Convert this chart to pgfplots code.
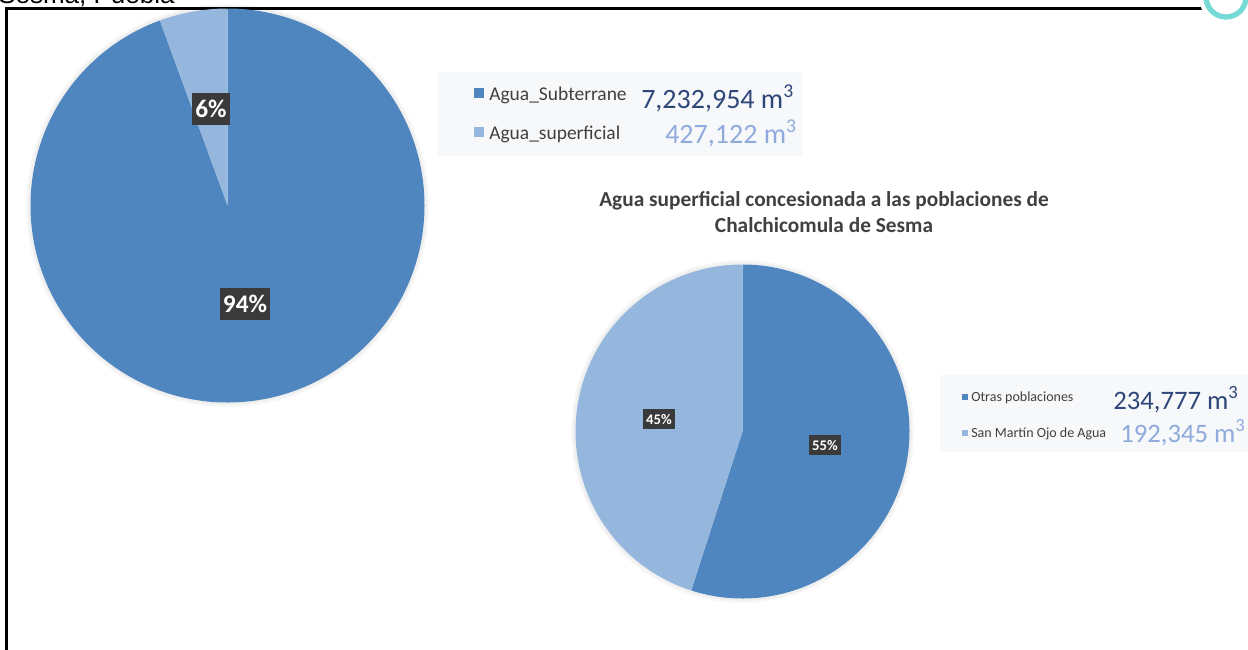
\documentclass[border=0pt]{standalone}
\usepackage{pgfplots}
\pgfplotsset{compat=1.18}
\usepackage{pgfplotstable}
\usepackage{fontspec}
\setmainfont{Carlito}
\newfontfamily\arialfont{Liberation Sans}
\definecolor{sliceA}{RGB}{79,134,191}
\definecolor{sliceB}{RGB}{149,183,222}
\definecolor{valA}{RGB}{46,70,121}
\definecolor{valB}{RGB}{143,170,220}
\definecolor{txt}{RGB}{64,64,64}
\definecolor{lbl}{RGB}{58,58,58}
\definecolor{legbg}{RGB}{247,248,250}
\definecolor{tealring}{RGB}{120,218,214}

% values in thousands of m^3
\pgfplotstableread{
serie miles
Agua_Subterrane 7232.954
Agua_superficial 427.122
}\tablaA
\pgfplotstableread{
serie miles
Otras_poblaciones 234.777
San_Martin_Ojo_de_Agua 192.345
}\tablaB

\begin{document}
\pgfplotstablegetelem{0}{miles}\of\tablaA \let\aA\pgfplotsretval
\pgfplotstablegetelem{1}{miles}\of\tablaA \let\aB\pgfplotsretval
\pgfplotstablegetelem{0}{miles}\of\tablaB \let\bA\pgfplotsretval
\pgfplotstablegetelem{1}{miles}\of\tablaB \let\bB\pgfplotsretval
\pgfmathsetmacro{\fA}{\aA/(\aA+\aB)}%
\pgfmathsetmacro{\angA}{360*\fA}%
\pgfmathsetmacro{\angAc}{360-\angA}%
\pgfmathsetmacro{\fB}{\bA/(\bA+\bB)}%
\pgfmathsetmacro{\angB}{360*\fB}%
\pgfmathsetmacro{\angBc}{360-\angB}%
\begin{tikzpicture}[x=0.75pt, y=-0.75pt]
\useasboundingbox (0,0) rectangle (1248,649);
\clip (0,0) rectangle (1248,649);
\begin{axis}[
  at={(0,649)}, anchor=south west,
  width=936pt, height=486.75pt, scale only axis,
  xmin=0, xmax=1248, ymin=0, ymax=649, y dir=reverse,
  hide axis, clip=false,
]
% frame
\draw[black, line width=1.6pt] (axis cs:6.5,660) -- (axis cs:6.5,8.5) -- (axis cs:1260,8.5);
% logo ring
\fill[white] (axis cs:1226,-2) circle[radius=20pt];
\draw[tealring, line width=4pt] (axis cs:1226,-3) circle[radius=15pt];
% top clipped text
\node[anchor=base west, inner sep=0pt, font=\arialfont\fontsize{19.5}{20}\selectfont] at (axis cs:-2,3.5) {Sesma, Puebla};

% ---- big pie ----
\fill[black, opacity=0.03] (axis cs:227.5,205.5) circle[radius=151pt];
\fill[black, opacity=0.03] (axis cs:227.5,205.5) circle[radius=149.5pt];
\fill[sliceA] (axis cs:227.5,205.5) -- (axis cs:227.5,8.5) arc[start angle=90, delta angle=-\angA, radius=147.75pt] -- cycle;
\fill[sliceB] (axis cs:227.5,205.5) -- (axis cs:227.5,8.5) arc[start angle=90, delta angle=\angAc, radius=147.75pt] -- cycle;
\node[fill=lbl, text=white, font=\bfseries\fontsize{19}{20}\selectfont, inner xsep=2.5pt, minimum height=24pt] at (axis cs:211,109) {6\%};
\node[fill=lbl, text=white, font=\bfseries\fontsize{19}{20}\selectfont, inner xsep=2.5pt, minimum height=24pt] at (axis cs:245,304) {94\%};

% legend 1
\fill[legbg] (axis cs:438,72) rectangle (axis cs:802,156);
\fill[sliceA] (axis cs:474,88) rectangle (axis cs:484,98);
\fill[sliceB] (axis cs:474,127) rectangle (axis cs:484,137);
\node[anchor=base west, inner sep=0pt, text=txt, font=\fontsize{14.6}{16}\selectfont] at (axis cs:489,100) {Agua\_Subterrane};
\node[anchor=base west, inner sep=0pt, text=txt, font=\fontsize{14.6}{16}\selectfont] at (axis cs:489,139) {Agua\_superficial};
\node[anchor=base west, inner sep=0pt, text=valA, font=\fontsize{21}{22}\selectfont] at (axis cs:641,108) {7,232,954 m\textsuperscript{3}};
\node[anchor=base west, inner sep=0pt, text=valB, font=\fontsize{21}{22}\selectfont] at (axis cs:665,143) {427,122 m\textsuperscript{3}};

% title 2
\node[align=center, text=txt, font=\bfseries\fontsize{16}{19}\selectfont, anchor=base] at (axis cs:824,232) {Agua superficial concesionada a las poblaciones de\\Chalchicomula de Sesma};

% ---- small pie ----
\fill[black, opacity=0.03] (axis cs:742.5,431.5) circle[radius=128.5pt];
\fill[black, opacity=0.03] (axis cs:742.5,431.5) circle[radius=127pt];
\fill[sliceA] (axis cs:742.5,431.5) -- (axis cs:742.5,264.5) arc[start angle=90, delta angle=-\angB, radius=125.25pt] -- cycle;
\fill[sliceB] (axis cs:742.5,431.5) -- (axis cs:742.5,264.5) arc[start angle=90, delta angle=\angBc, radius=125.25pt] -- cycle;
\node[fill=lbl, text=white, font=\bfseries\fontsize{11}{12}\selectfont, inner xsep=2.5pt, minimum height=15pt] at (axis cs:659,419) {45\%};
\node[fill=lbl, text=white, font=\bfseries\fontsize{11}{12}\selectfont, inner xsep=2.5pt, minimum height=15pt] at (axis cs:825,445) {55\%};

% legend 2
\fill[legbg] (axis cs:940,375) rectangle (axis cs:1260,452);
\fill[sliceA] (axis cs:962,394) rectangle (axis cs:968,400);
\fill[sliceB] (axis cs:962,430) rectangle (axis cs:968,436);
\node[anchor=base west, inner sep=0pt, text=txt, font=\fontsize{10.5}{12}\selectfont] at (axis cs:971,401) {Otras poblaciones};
\node[anchor=base west, inner sep=0pt, text=txt, font=\fontsize{10.5}{12}\selectfont] at (axis cs:971,437) {San Martín Ojo de Agua};
\node[anchor=base west, inner sep=0pt, text=valA, font=\fontsize{20}{22}\selectfont] at (axis cs:1113,409) {234,777 m\textsuperscript{3}};
\node[anchor=base west, inner sep=0pt, text=valB, font=\fontsize{20}{22}\selectfont] at (axis cs:1120,442) {192,345 m\textsuperscript{3}};
\end{axis}
\end{tikzpicture}
\end{document}
